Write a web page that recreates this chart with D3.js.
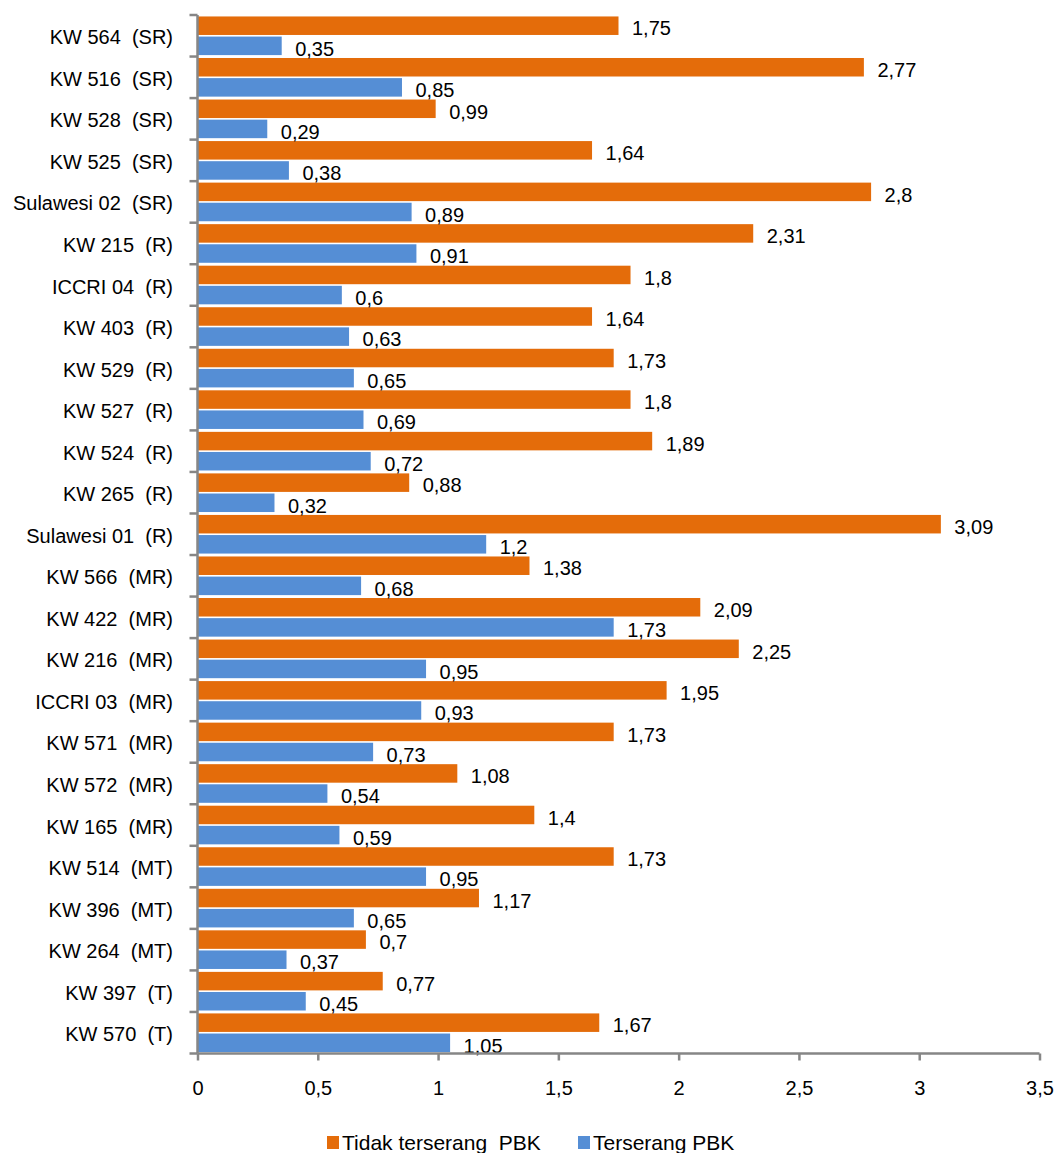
<!DOCTYPE html>
<html><head><meta charset="utf-8">
<script src="https://cdn.jsdelivr.net/npm/d3@7"></script>
<style>body{margin:0;background:#fff}svg{display:block}text{font-family:"Liberation Sans",Arial,sans-serif}</style>
</head><body><svg id="c" width="1054" height="1153"></svg>
<script>
const categories = ["KW 564  (SR)","KW 516  (SR)","KW 528  (SR)","KW 525  (SR)","Sulawesi 02  (SR)","KW 215  (R)","ICCRI 04  (R)","KW 403  (R)","KW 529  (R)","KW 527  (R)","KW 524  (R)","KW 265  (R)","Sulawesi 01  (R)","KW 566  (MR)","KW 422  (MR)","KW 216  (MR)","ICCRI 03  (MR)","KW 571  (MR)","KW 572  (MR)","KW 165  (MR)","KW 514  (MT)","KW 396  (MT)","KW 264  (MT)","KW 397  (T)","KW 570  (T)"];
const tidak = [1.75,2.77,0.99,1.64,2.8,2.31,1.8,1.64,1.73,1.8,1.89,0.88,3.09,1.38,2.09,2.25,1.95,1.73,1.08,1.4,1.73,1.17,0.7,0.77,1.67];
const terserang = [0.35,0.85,0.29,0.38,0.89,0.91,0.6,0.63,0.65,0.69,0.72,0.32,1.2,0.68,1.73,0.95,0.93,0.73,0.54,0.59,0.95,0.65,0.37,0.45,1.05];
const seriesNames = ["Tidak terserang  PBK","Terserang PBK"];
const colors = ["#E46C0A","#558ED5"];
const xTicks = [0,0.5,1,1.5,2,2.5,3,3.5];

const svg = d3.select("#c");
const L=197.5, R=1039.5, T=15, B=1053.5;
const FS = 20;
const x = d3.scaleLinear().domain([0,3.5]).range([L,R]);
const y = d3.scaleBand().domain(categories).range([T,B]).paddingInner(0.07).paddingOuter(0.035);
const ySub = d3.scaleBand().domain([0,1]).range([0,y.bandwidth()]).paddingInner(0.08);
const fmt = v => String(v).replace(".",",");
const series=[tidak,terserang];

const g = svg.append("g");
series.forEach((vals,si)=>{
  g.selectAll(null).data(vals).enter().append("rect")
    .attr("x",x(0)).attr("y",(d,i)=>y(categories[i])+ySub(si))
    .attr("width",d=>x(d)-x(0)).attr("height",ySub.bandwidth())
    .attr("fill",colors[si]);
  g.selectAll(null).data(vals).enter().append("text")
    .attr("x",d=>x(d)+13.5).attr("y",(d,i)=>y(categories[i])+ySub(si)+ySub.bandwidth()+0.5)
    .attr("font-size",FS).attr("fill","#000").text(d=>fmt(d));
});

// y axis
const yb = d3.scaleLinear().domain([0,categories.length]).range([T,B]);
const ya = svg.append("g");
ya.append("line").attr("x1",L).attr("x2",L).attr("y1",T).attr("y2",B).attr("stroke","#868686").attr("stroke-width",2.5);
ya.selectAll(null).data(d3.range(categories.length+1)).enter().append("line")
  .attr("x1",L-8).attr("x2",L).attr("y1",d=>yb(d)).attr("y2",d=>yb(d)).attr("stroke","#868686").attr("stroke-width",2.5);
ya.selectAll(null).data(categories).enter().append("text")
  .attr("x",173).attr("y",(d,i)=>yb(i+0.5)+8.5).attr("text-anchor","end")
  .attr("font-size",FS).attr("fill","#000").style("white-space","pre").text(d=>d);

// x axis
const xa = svg.append("g").attr("transform",`translate(0,${B})`)
  .call(d3.axisBottom(x).tickValues(xTicks).tickSize(7).tickFormat(fmt));
xa.select(".domain").attr("stroke","#868686").attr("stroke-width",2.5).attr("d",`M${L},0H${R}`);
xa.selectAll(".tick line").attr("stroke","#868686").attr("stroke-width",2.5);
xa.selectAll(".tick text").attr("font-size",FS).attr("fill","#000").attr("dy",0).attr("y",41)
  .style("font-family","'Liberation Sans',Arial,sans-serif");

// legend
const lg = svg.append("g");
const lx=[327,578];
seriesNames.forEach((n,i)=>{
  lg.append("rect").attr("x",lx[i]).attr("y",1136).attr("width",12).attr("height",13).attr("fill",colors[i]);
  lg.append("text").attr("x",lx[i]+15).attr("y",1150).attr("font-size",21).attr("fill","#000").style("white-space","pre").text(n);
});
</script></body></html>
